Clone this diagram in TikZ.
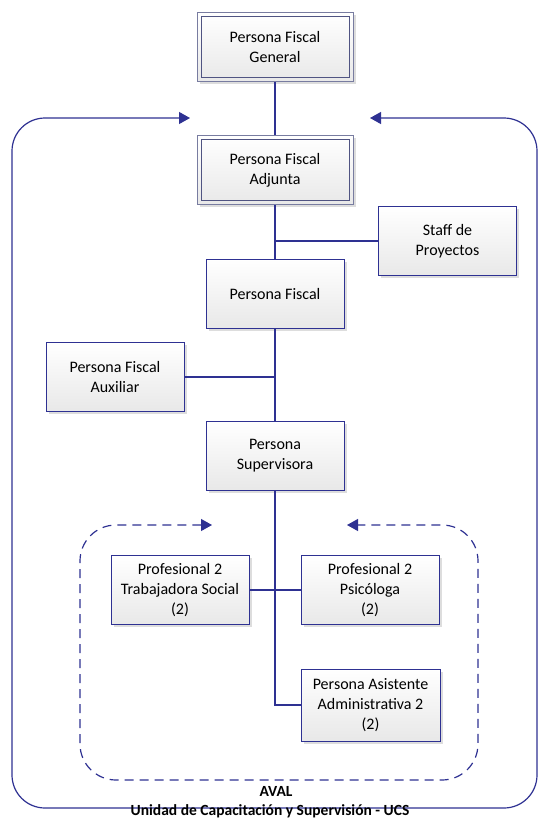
\documentclass[tikz,border=0pt]{standalone}
\usepackage{fontspec}
\setmainfont{Carlito}
\usetikzlibrary{arrows.meta,shadows}

\definecolor{orgline}{RGB}{46,49,146}
\definecolor{orgframe}{RGB}{120,124,160}
\definecolor{orginner}{RGB}{80,84,130}

\tikzset{
  unit/.style={draw=orgline, line width=1pt, top color=white, bottom color=black!9,
    minimum width=138pt, minimum height=69pt, align=center,
    font=\fontsize{16}{20}\selectfont,
    drop shadow={shadow xshift=2.5pt, shadow yshift=-2.5pt, fill=black!22, opacity=0.6}},
  headunit/.style={unit, draw=orgframe, minimum width=156pt,
    path picture={\draw[orginner, line width=1pt]
      ([shift={(4pt,4pt)}]path picture bounding box.south west) rectangle
      ([shift={(-4pt,-4pt)}]path picture bounding box.north east);}},
  link/.style={orgline, line width=1.3pt},
  flow/.style={orgline, line width=1.2pt, rounded corners=33pt, {Triangle[length=11pt,width=12pt]}-{Triangle[length=11pt,width=12pt]}},
  label/.style={font=\fontsize{15.5}{18}\selectfont\bfseries}
}

\begin{document}
\begin{tikzpicture}[x=1pt, y=-1pt]
  \useasboundingbox (0, 0) rectangle (540, 819);

  \node[headunit] (general) at (275, 47) {Persona Fiscal\\General};
  \node[headunit] (adjunta) at (275, 170) {Persona Fiscal\\Adjunta};
  \node[unit] (staff) at (447.5, 241) {Staff de\\Proyectos};
  \node[unit] (fiscal) at (275, 293.5) {Persona Fiscal};
  \node[unit] (auxiliar) at (115, 377) {Persona Fiscal\\Auxiliar};
  \node[unit] (supervisora) at (275, 456) {Persona\\Supervisora};
  \node[unit] (social) at (180, 590) {Profesional 2\\Trabajadora Social\\(2)};
  \node[unit] (psicologa) at (370, 590) {Profesional 2\\Psicóloga\\(2)};
  \node[unit, minimum width=139pt, minimum height=72pt] (asistente) at (370.5, 705) {Persona Asistente\\Administrativa 2\\(2)};

  \coordinate (ucsL) at (190, 118);
  \coordinate (ucsR) at (370, 118);
  \coordinate (avalL) at (212, 525);
  \coordinate (avalR) at (347, 525);

  \draw[link] (general) -- (adjunta);
  \draw[link] (adjunta) -- (fiscal);
  \draw[link] (staff.west) -- (staff.west -| fiscal);
  \draw[link] (fiscal) -- (supervisora);
  \draw[link] (auxiliar.east) -- (auxiliar.east -| fiscal);
  \draw[link] (supervisora.south) |- (asistente.west);
  \draw[link] (social) -- (psicologa);

  \draw[flow] (ucsL) -- (12, 118) -- (12, 808) -- (537, 808) -- (537, 118) -- (ucsR);
  \draw[flow, dash pattern=on 9pt off 6pt, rounded corners=36pt] (avalL) -- (80, 525) -- (80, 780) -- (478, 780) -- (478, 525) -- (avalR);

  \node[label] (aval) at (276, 791) {AVAL};
  \node[label] (ucs) at (270, 811) {Unidad de Capacitación y Supervisión - UCS};
\end{tikzpicture}
\end{document}
